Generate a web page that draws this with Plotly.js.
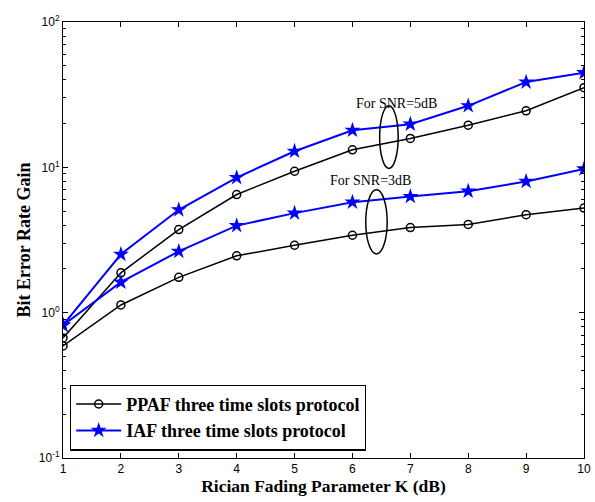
<!DOCTYPE html>
<html>
<head>
<meta charset="utf-8">
<script src="https://cdn.plot.ly/plotly-3.0.1.min.js"></script>
<style>html,body{margin:0;padding:0;background:#fff;}#chart{width:595px;height:502px;}</style>
</head>
<body>
<div id="chart"></div>
<script>
var K = [1, 2, 3, 4, 5, 6, 7, 8, 9, 10];
var ppaf5 = [0.67, 1.88, 3.73, 6.5, 9.4, 13.2, 15.8, 19.5, 24.5, 35.3];
var iaf5  = [0.82, 2.52, 5.1, 8.5, 12.9, 18.0, 19.8, 26.5, 38.6, 44.8];
var ppaf3 = [0.59, 1.13, 1.75, 2.46, 2.91, 3.41, 3.85, 4.05, 4.72, 5.24];
var iaf3  = [0.82, 1.62, 2.64, 3.97, 4.84, 5.76, 6.3, 6.85, 8.0, 9.75];
var yTickVals = [0.1, 1, 10, 100];
var yTickText = ['10<sup>-1</sup>', '10<sup>0</sup>', '10<sup>1</sup>', '10<sup>2</sup>'];
var yMinorVals = [0.2,0.3,0.4,0.5,0.6,0.7,0.8,0.9,2,3,4,5,6,7,8,9,20,30,40,50,60,70,80,90];
var legendNames = ['PPAF three time slots protocol', 'IAF three time slots protocol'];
var snrLabels = ['For SNR=5dB', 'For SNR=3dB'];

var blackLine = {color: '#000', width: 1.5};
var blueLine = {color: '#0000ff', width: 2};
var circ = {symbol: 'circle-open', size: 8, color: '#000', line: {width: 1.5, color: '#000'}};
var star = {symbol: 'star', size: 12, color: '#0000ff', line: {width: 0}};

var traces = [
  {x: K, y: ppaf5, mode: 'lines+markers', name: legendNames[0], line: blackLine, marker: circ, showlegend: true},
  {x: K, y: iaf5, mode: 'lines+markers', name: legendNames[1], line: blueLine, marker: star, showlegend: true},
  {x: K, y: ppaf3, mode: 'lines+markers', name: legendNames[0], line: blackLine, marker: circ, showlegend: false},
  {x: K, y: iaf3, mode: 'lines+markers', name: legendNames[1], line: blueLine, marker: star, showlegend: false}
];

var serif = 'Liberation Serif, Times New Roman, serif';
var sans = 'Liberation Sans, Arial, sans-serif';

var layout = {
  width: 595, height: 502,
  margin: {l: 63, r: 11, t: 22, b: 44, pad: 0},
  paper_bgcolor: '#fff', plot_bgcolor: '#fff',
  showlegend: true,
  legend: {x: 0.0134, y: 0.017, xanchor: 'left', yanchor: 'bottom', bgcolor: '#fff', bordercolor: '#000', borderwidth: 1.2,
           font: {family: serif, size: 18, color: '#000', weight: 'bold'}, tracegroupgap: 0, itemwidth: 45},
  xaxis: {
    range: [1, 10], tickvals: K, ticks: 'inside', ticklen: 5, tickwidth: 1, tickcolor: '#000',
    showline: true, linecolor: '#000', linewidth: 1, mirror: 'ticks', showgrid: false, zeroline: false,
    tickfont: {family: sans, size: 12, color: '#000'},
    title: {text: '<b>Rician Fading Parameter K (dB)</b>', font: {family: serif, size: 17.5, color: '#000'}, standoff: 4}
  },
  yaxis: {
    type: 'log', range: [-1, 2], tickvals: yTickVals, ticktext: yTickText, ticks: 'inside', ticklen: 5, tickwidth: 1, tickcolor: '#000',
    showline: true, linecolor: '#000', linewidth: 1, mirror: 'ticks', showgrid: false, zeroline: false,
    tickfont: {family: sans, size: 12, color: '#000'},
    minor: {tickvals: yMinorVals, ticks: 'inside', ticklen: 3, tickcolor: '#000', showgrid: false},
    title: {text: '<b>Bit Error Rate Gain</b>', font: {family: serif, size: 18, color: '#000'}, standoff: 3}
  },
  shapes: [
    {type: 'circle', xref: 'x', yref: 'paper', x0: 6.47, x1: 6.79, y0: 0.664, y1: 0.808, line: {color: '#000', width: 1.5}},
    {type: 'circle', xref: 'x', yref: 'paper', x0: 6.23, x1: 6.60, y0: 0.468, y1: 0.615, line: {color: '#000', width: 1.5}}
  ],
  annotations: [
    {text: snrLabels[0], xref: 'x', yref: 'paper', x: 6.76, y: 0.834, showarrow: false, font: {family: serif, size: 14, color: '#000'}},
    {text: snrLabels[1], xref: 'x', yref: 'paper', x: 6.31, y: 0.637, showarrow: false, font: {family: serif, size: 14, color: '#000'}}
  ]
};

Plotly.newPlot('chart', traces, layout, {displayModeBar: false, staticPlot: true});
</script>
</body>
</html>
